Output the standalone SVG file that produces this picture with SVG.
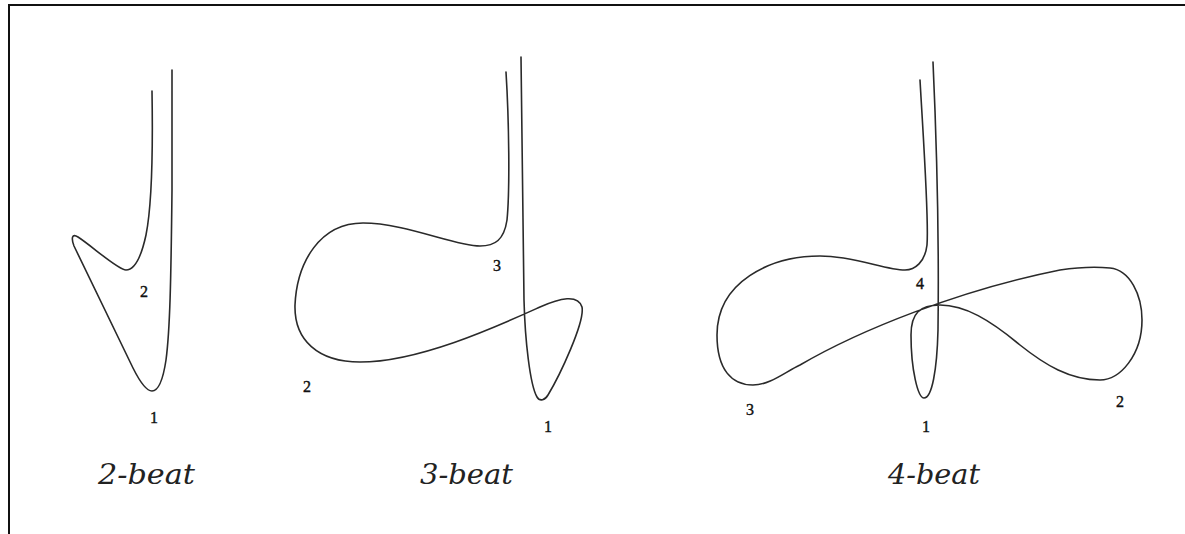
<svg xmlns="http://www.w3.org/2000/svg" width="1185" height="534" viewBox="0 0 1185 534">
<style>
.c{fill:none;stroke:#2a2a2a;stroke-width:1.6;stroke-linecap:round;stroke-linejoin:round}
.n{font-family:"Liberation Serif","Times New Roman",serif;font-size:16px;fill:#111;text-anchor:middle;stroke:#111;stroke-width:0.4}
.t{font-family:"DejaVu Serif","Liberation Serif",serif;font-style:italic;font-size:27px;fill:#222}
.b{stroke:#111;stroke-width:2;fill:none}
</style>
<rect width="1185" height="534" fill="#ffffff"/>
<path class="b" d="M9,534 L9,5 L1185,5"/>
<g id="beat2">
<path class="c" d="M152,91 C153,150 152,205 146,235 C141,258 134,270 126,270 C118,270 92,246 78,237 C72,233 71,238 74,246 L133,368 C140,382 146,391 152,391 C158,391 163,380 166,360 C170,330 171,280 172,190 L172,70"/>
<text class="n" x="144" y="297">2</text>
<text class="n" x="154" y="423">1</text>
<text class="t" x="98" y="484" textLength="97" lengthAdjust="spacingAndGlyphs">2-beat</text>
</g>
<g id="beat3">
<path class="c" d="M506,72 C509,120 510,190 507,220 C504,240 495,246 480,246 C455,246 405,223 363,223 C320,223 297,262 295,305 C294,340 318,362 360,362 C420,362 500,325 540,307 C560,298 578,294 582,307 C585,322 560,375 548,395 C545,400 540,402 537,397 C530,385 525,340 524,300 L521,57"/>
<text class="n" x="497" y="271">3</text>
<text class="n" x="307" y="392">2</text>
<text class="n" x="548" y="432">1</text>
<text class="t" x="420" y="484" textLength="93" lengthAdjust="spacingAndGlyphs">3-beat</text>
</g>
<g id="beat4">
<path class="c" d="M920,80 C924,150 929,220 927,245 C925,262 915,270 905,270 C885,270 855,256 820,256 C770,256 717,282 717,335 C717,370 732,385 753,385 C770,385 785,372 800,365 C860,330 960,290 1060,270 C1080,267 1100,267 1110,268 C1130,270 1142,295 1142,320 C1142,355 1120,380 1100,380 C1070,380 1045,365 1020,345 C990,320 965,305 940,305 C920,305 911,313 911,335 C911,370 918,398 924,398 C932,398 937,370 938,330 C939,250 937,150 933,62"/>
<text class="n" x="920" y="289">4</text>
<text class="n" x="750" y="415">3</text>
<text class="n" x="926" y="432">1</text>
<text class="n" x="1120" y="407">2</text>
<text class="t" x="888" y="484" textLength="92" lengthAdjust="spacingAndGlyphs">4-beat</text>
</g>
</svg>
